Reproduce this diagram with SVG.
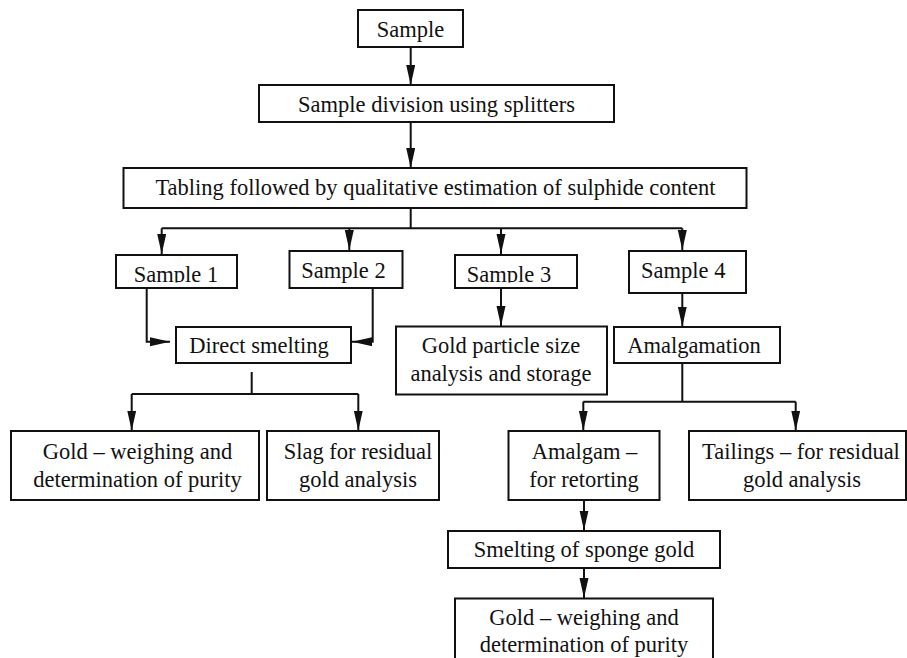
<svg xmlns="http://www.w3.org/2000/svg" width="907" height="658" viewBox="0 0 907 658">
<style>
rect.box{fill:#fff;stroke:#111;stroke-width:2}
text{font-family:"Liberation Serif","Times New Roman",serif;font-size:22.5px;fill:#111;text-anchor:middle}
.c path,.c line{fill:none;stroke:#111;stroke-width:2}
</style>
<defs>
<marker id="ah" markerUnits="userSpaceOnUse" markerWidth="21" markerHeight="10" refX="20" refY="4.5" orient="auto">
<path d="M0,0 L20,4.5 L0,9 z" fill="#111"/>
</marker>
<clipPath id="clipS"><rect x="0" y="0" width="907" height="282.5"/></clipPath>
</defs>
<rect width="907" height="658" fill="#fff"/>
<g class="c" id="connectors">
<line x1="410.7" y1="47" x2="410.7" y2="85" marker-end="url(#ah)"/>
<line x1="410.7" y1="122" x2="410.7" y2="168" marker-end="url(#ah)"/>
<path d="M410.7,208 V228.3 M161.7,228.3 H682.3"/>
<line x1="161.7" y1="228.3" x2="161.7" y2="254" marker-end="url(#ah)"/>
<line x1="349.3" y1="228.3" x2="349.3" y2="250" marker-end="url(#ah)"/>
<line x1="501" y1="228.3" x2="501" y2="254" marker-end="url(#ah)"/>
<line x1="682.3" y1="228.3" x2="682.3" y2="250" marker-end="url(#ah)"/>
<path d="M146.7,288 V341.7 H170" marker-end="url(#ah)"/>
<path d="M372.7,288 V341.7 H352" marker-end="url(#ah)"/>
<line x1="501" y1="288" x2="501" y2="326" marker-end="url(#ah)"/>
<line x1="682.3" y1="293" x2="682.3" y2="326.5" marker-end="url(#ah)"/>
<path d="M251.7,372 V394 M131.7,394 H358.3"/>
<line x1="131.7" y1="394" x2="131.7" y2="430.5" marker-end="url(#ah)"/>
<line x1="358.3" y1="394" x2="358.3" y2="430.5" marker-end="url(#ah)"/>
<path d="M682.3,363 V401.7 M583.3,401.7 H795.7"/>
<line x1="583.3" y1="401.7" x2="583.3" y2="430.5" marker-end="url(#ah)"/>
<line x1="795.7" y1="401.7" x2="795.7" y2="430.5" marker-end="url(#ah)"/>
<line x1="584" y1="500" x2="584" y2="530.5" marker-end="url(#ah)"/>
<line x1="584" y1="568" x2="584" y2="598" marker-end="url(#ah)"/>
</g>
<g id="n-sample"><rect class="box" x="358" y="10" width="105" height="37"/><text x="410.5" y="37">Sample</text></g>
<g id="n-division"><rect class="box" x="259" y="85" width="355" height="37"/><text x="436.5" y="111.5">Sample division using splitters</text></g>
<g id="n-tabling"><rect class="box" x="123.5" y="168" width="623" height="40"/><text x="435.5" y="195">Tabling followed by qualitative estimation of sulphide content</text></g>
<g id="n-s1"><rect class="box" x="116" y="255" width="121" height="33"/><text x="176" y="282" clip-path="url(#clipS)">Sample 1</text></g>
<g id="n-s2"><rect class="box" x="289.5" y="251" width="113" height="37"/><text x="343.5" y="277.7">Sample 2</text></g>
<g id="n-s3"><rect class="box" x="455" y="255" width="122" height="33"/><text x="509" y="282" clip-path="url(#clipS)">Sample 3</text></g>
<g id="n-s4"><rect class="box" x="629" y="251" width="117" height="42"/><text x="683.3" y="277.7">Sample 4</text></g>
<g id="n-direct"><rect class="box" x="176" y="327" width="175" height="36"/><text x="259" y="353">Direct smelting</text></g>
<g id="n-gps"><rect class="box" x="396" y="326.5" width="211" height="68"/><text x="501" y="353">Gold particle size</text><text x="501" y="381">analysis and storage</text></g>
<g id="n-amalgamation"><rect class="box" x="614" y="327" width="166" height="36"/><text x="694" y="353">Amalgamation</text></g>
<g id="n-gold1"><rect class="box" x="11" y="431" width="248" height="69"/><text x="137.5" y="458.5">Gold – weighing and</text><text x="137.5" y="486.5">determination of purity</text></g>
<g id="n-slag"><rect class="box" x="267" y="431" width="172" height="69"/><text x="358" y="458.5">Slag for residual</text><text x="358" y="486.5">gold analysis</text></g>
<g id="n-amalgam"><rect class="box" x="508.5" y="431" width="151" height="69"/><text x="584.5" y="458.5">Amalgam –</text><text x="584" y="486.5">for retorting</text></g>
<g id="n-tailings"><rect class="box" x="689" y="431" width="217" height="69"/><text x="801" y="458.5">Tailings – for residual</text><text x="802" y="486.5">gold analysis</text></g>
<g id="n-smelting"><rect class="box" x="448" y="531" width="272" height="37"/><text x="584" y="556.5">Smelting of sponge gold</text></g>
<g id="n-gold2"><rect class="box" x="455" y="598.5" width="258" height="80"/><text x="584" y="625">Gold – weighing and</text><text x="584" y="651.5">determination of purity</text></g>
</svg>
